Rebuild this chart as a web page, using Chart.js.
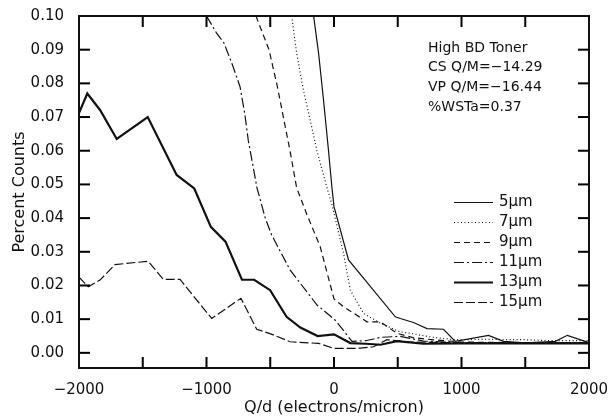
<!DOCTYPE html>
<html lang="en">
<head>
  <meta charset="UTF-8" />
  <title>Percent Counts vs Q/d</title>
  <script src="https://cdn.jsdelivr.net/npm/chart.js"></script>
  <style>
    body { margin: 0; background: #fff; }
    .chart-box { width: 611px; height: 419px; position: relative; }
  </style>
</head>
<body>
  <div class="chart-box"><canvas id="qdChart"></canvas></div>

  <script>
    // Series labels (particle size)
    const sizeLabels = ['5μm', '7μm', '9μm', '11μm', '13μm', '15μm'];

    // Q/d (electrons/micron) and percent counts
    const qd5  = [-160, -121, -82, -43, -16, 0, 114, 481, 520, 624, 729, 859, 951, 1212, 1330, 1500, 1737, 1830, 1987, 2000];
    const pct5 = [0.100, 0.089, 0.075, 0.060, 0.049, 0.0434, 0.0276, 0.0107, 0.0102, 0.0090, 0.0072, 0.0070, 0.0034, 0.0052, 0.0034, 0.0030, 0.0034, 0.0052, 0.0032, 0.0030];

    const qd7  = [-332, -293, -240, -186, -134, -55, -16, 75, 128, 232, 364, 520, 600, 757, 940, 1200, 1500, 1700, 2000];
    const pct7 = [0.100, 0.089, 0.078, 0.069, 0.060, 0.049, 0.044, 0.0295, 0.0186, 0.0117, 0.0088, 0.0062, 0.0058, 0.0047, 0.0039, 0.0040, 0.0039, 0.0036, 0.0036];

    const qd9  = [-612, -510, -444, -392, -345, -293, -212, -108, 0, 75, 259, 364, 494, 620, 800, 1000, 1500, 2000];
    const pct9 = [0.100, 0.090, 0.079, 0.069, 0.060, 0.049, 0.041, 0.0315, 0.016, 0.0137, 0.0092, 0.0092, 0.0058, 0.0045, 0.0038, 0.0032, 0.0030, 0.0030];

    const qd11  = [-1000, -922, -863, -792, -737, -700, -672, -604, -539, -489, -345, -133, 10, 141, 250, 364, 520, 700, 1000, 2000];
    const pct11 = [0.100, 0.095, 0.092, 0.085, 0.079, 0.071, 0.063, 0.049, 0.040, 0.035, 0.0246, 0.0142, 0.0097, 0.0034, 0.0036, 0.0046, 0.0049, 0.0035, 0.0030, 0.0030];

    const qd13  = [-2000, -1935, -1835, -1704, -1461, -1234, -1096, -966, -851, -722, -626, -501, -372, -264, -128, 0, 128, 250, 364, 494, 700, 1000, 1500, 2000];
    const pct13 = [0.0712, 0.0770, 0.0721, 0.0635, 0.0700, 0.0528, 0.0488, 0.0374, 0.0330, 0.0217, 0.0217, 0.0186, 0.0107, 0.0075, 0.0050, 0.0055, 0.0029, 0.0027, 0.0024, 0.0035, 0.0027, 0.0028, 0.0028, 0.0028];

    const qd15  = [-2000, -1927, -1835, -1718, -1457, -1339, -1208, -959, -730, -606, -502, -345, -120, 0, 128, 206, 310, 415, 600, 1000, 2000];
    const pct15 = [0.0225, 0.0196, 0.0216, 0.0262, 0.0272, 0.0218, 0.0218, 0.0102, 0.0162, 0.0070, 0.0057, 0.0033, 0.0028, 0.0013, 0.0013, 0.0014, 0.0018, 0.0039, 0.0032, 0.0030, 0.0030];

    // Axis ticks
    const xTickValues = [-2000, -1000, 0, 1000, 2000];
    const xMarkValues = [-1500, -1000, -500, 0, 500, 1000, 1500];
    const yTickValues = [0, 0.01, 0.02, 0.03, 0.04, 0.05, 0.06, 0.07, 0.08, 0.09, 0.10];
    const yMarkValues = [0, 0.01, 0.02, 0.03, 0.04, 0.05, 0.06, 0.07, 0.08, 0.09];

    const noteLines = ['High BD Toner', 'CS Q/M=−14.29', 'VP Q/M=−16.44', '%WSTa=0.37'];

    const FONT = "'DejaVu Sans', sans-serif";
    const INK = '#111';

    const pairs = (xs, ys) => xs.map((x, i) => ({ x: x, y: ys[i] }));

    function series(label, xs, ys, width, dash) {
      return {
        label: label,
        data: pairs(xs, ys),
        borderColor: INK,
        borderWidth: width,
        borderDash: dash,
        pointRadius: 0,
        tension: 0,
        fill: false
      };
    }

    // Frame, inward tick marks, note text and legend
    const framePlugin = {
      id: 'frame',
      afterDraw(chart) {
        const ctx = chart.ctx;
        const a = chart.chartArea;
        const sx = chart.scales.x;
        const sy = chart.scales.y;
        const tl = 11;
        ctx.save();
        ctx.fillStyle = '#000';
        xMarkValues.forEach(v => {
          const px = sx.getPixelForValue(v);
          ctx.fillRect(px - 1, a.bottom - tl, 2, tl);
          ctx.fillRect(px - 1, a.top, 2, tl);
        });
        yMarkValues.forEach(v => {
          const py = sy.getPixelForValue(v);
          ctx.fillRect(a.left, py - 1, tl, 2);
          ctx.fillRect(a.right - tl, py - 1, tl, 2);
        });
        ctx.strokeStyle = INK;
        ctx.setLineDash([]);
        ctx.lineWidth = 2;
        ctx.strokeRect(a.left, a.top, a.right - a.left, a.bottom - a.top);

        ctx.fillStyle = INK;
        ctx.textBaseline = 'middle';
        ctx.textAlign = 'left';
        ctx.font = '14px ' + FONT;
        noteLines.forEach((t, i) => ctx.fillText(t, a.right - 161, a.top + 32 + i * 19.7));

        // legend
        ctx.font = '15px ' + FONT;
        chart.data.datasets.forEach((ds, i) => {
          const y = a.top + 186.5 + i * 20;
          ctx.strokeStyle = ds.borderColor;
          ctx.lineWidth = ds.borderWidth;
          ctx.setLineDash(ds.borderDash || []);
          ctx.beginPath();
          ctx.moveTo(a.right - 135, y);
          ctx.lineTo(a.right - 96, y);
          ctx.stroke();
          ctx.fillText(ds.label, a.right - 90, y);
        });
        ctx.restore();
      }
    };

    new Chart(document.getElementById('qdChart'), {
      type: 'line',
      data: {
        datasets: [
          series(sizeLabels[0], qd5, pct5, 1.2, []),
          series(sizeLabels[1], qd7, pct7, 1.2, [1, 2.5]),
          series(sizeLabels[2], qd9, pct9, 1.2, [6, 4]),
          series(sizeLabels[3], qd11, pct11, 1.2, [10, 3, 2, 3]),
          series(sizeLabels[4], qd13, pct13, 2.2, []),
          series(sizeLabels[5], qd15, pct15, 1.2, [9, 3])
        ]
      },
      options: {
        responsive: true,
        maintainAspectRatio: false,
        animation: false,
        layout: { padding: { left: 0, top: 16, right: 22, bottom: 0 } },
        plugins: {
          legend: { display: false },
          tooltip: { enabled: false }
        },
        scales: {
          x: {
            type: 'linear',
            min: -2000,
            max: 2000,
            grid: { display: false },
            border: { display: false },
            afterFit: s => {
              s.height = 51;
              s.paddingLeft = 0;
              s.paddingRight = 0;
            },
            afterBuildTicks: s => { s.ticks = xTickValues.map(v => ({ value: v })); },
            ticks: {
              padding: 5,
              color: INK,
              font: { family: FONT, size: 15 },
              maxRotation: 0,
              callback: v => (v < 0 ? '−' + Math.abs(v) : String(v))
            },
            title: {
              display: true,
              text: 'Q/d (electrons/micron)',
              color: INK,
              font: { family: FONT, size: 16 },
              padding: { top: 0, bottom: 2 }
            }
          },
          y: {
            type: 'linear',
            min: -0.0045,
            max: 0.10,
            grid: { display: false },
            border: { display: false },
            afterFit: s => {
              s.width = 79;
              s.paddingTop = 0;
              s.paddingBottom = 0;
            },
            afterBuildTicks: s => { s.ticks = yTickValues.map(v => ({ value: v })); },
            ticks: {
              padding: 7,
              color: INK,
              font: { family: FONT, size: 15 },
              callback: v => v.toFixed(2)
            },
            title: {
              display: true,
              text: 'Percent Counts',
              color: INK,
              font: { family: FONT, size: 16 },
              padding: { top: 10, bottom: 0 }
            }
          }
        }
      },
      plugins: [framePlugin]
    });
  </script>
</body>
</html>
